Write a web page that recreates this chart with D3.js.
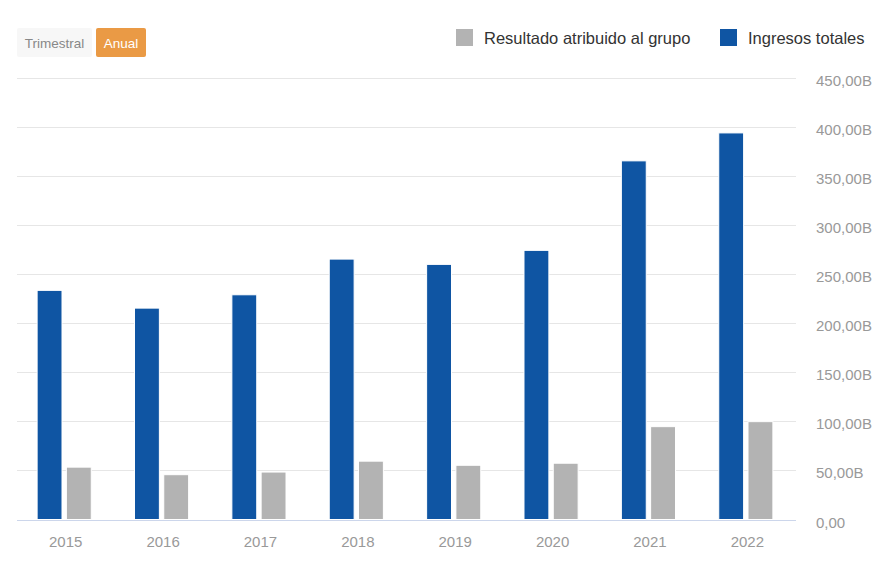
<!DOCTYPE html>
<html><head><meta charset="utf-8">
<script src="https://cdn.jsdelivr.net/npm/d3@7/dist/d3.min.js"></script>
<style>
html,body{margin:0;padding:0;background:#fff;}
svg{display:block;font-family:"Liberation Sans",Arial,Helvetica,sans-serif;}
</style></head>
<body>
<svg id="chart" width="887" height="583"></svg>
<script>
const years = ["2015","2016","2017","2018","2019","2020","2021","2022"];
const ingresos = [233.7, 215.6, 229.2, 265.6, 260.2, 274.5, 365.8, 394.3];
const resultado = [53.4, 45.7, 48.4, 59.5, 55.3, 57.4, 94.7, 99.8];
const yTicks = [0, 50, 100, 150, 200, 250, 300, 350, 400, 450];
const seriesNames = ["Ingresos totales", "Resultado atribuido al grupo"];
const legendOrder = ["Resultado atribuido al grupo", "Ingresos totales"];
const colors = {"Ingresos totales": "#0f55a3", "Resultado atribuido al grupo": "#b3b3b3"};

const svg = d3.select("#chart");
const plotL = 17, plotR = 796, plotT = 78.3, plotB = 519.5;

const x0 = d3.scaleBand().domain(years).range([plotL, plotR]).paddingInner(0).paddingOuter(0);
const groupPad = 0.222;
const x1 = d3.scaleBand().domain(seriesNames)
  .range([0, x0.bandwidth() * (1 - 2 * groupPad)]).paddingInner(0.15);
const y = d3.scaleLinear().domain([0, 450]).range([plotB, plotT]);

// grid
svg.append("g").selectAll("line").data(yTicks.filter(d => d > 0)).join("line")
  .attr("x1", plotL).attr("x2", plotR)
  .attr("y1", d => Math.round(y(d)) + 0.5).attr("y2", d => Math.round(y(d)) + 0.5)
  .attr("stroke", "#e6e6e6").attr("stroke-width", 1);

// y labels (right)
const yAxis = d3.axisRight(y).tickValues(yTicks).tickSize(0)
  .tickFormat(d => d === 0 ? "0,00" : d3.format(".2f")(d).replace(".", ",") + "B");
const ya = svg.append("g").attr("transform", `translate(${816},0)`).call(yAxis);
ya.select(".domain").remove();
ya.selectAll("text").attr("x", 0).attr("dy", "0.5em")
  .attr("font-size", 15).attr("fill", "#999999")
  .attr("font-family", "Liberation Sans, Arial, sans-serif").attr("text-anchor", "start");

// bars
const data = years.map((yr, i) => ({year: yr, vals: [
  {name: "Ingresos totales", v: ingresos[i]},
  {name: "Resultado atribuido al grupo", v: resultado[i]}]}));
const groupOffset = x0.bandwidth() * groupPad - 1.5;
const g = svg.append("g").selectAll("g").data(data).join("g")
  .attr("transform", d => `translate(${x0(d.year) + groupOffset},0)`);
g.selectAll("rect").data(d => d.vals).join("rect")
  .attr("x", d => x1(d.name)).attr("width", x1.bandwidth())
  .attr("y", d => y(d.v)).attr("height", d => y(0) - y(d.v))
  .attr("fill", d => colors[d.name]).attr("stroke", "#ffffff").attr("stroke-width", 1);

// x axis
const xAxis = d3.axisBottom(x0).tickSize(0);
const xa = svg.append("g").attr("transform", `translate(0,${Math.round(y(0)) + 0.5})`).call(xAxis);
xa.select(".domain").attr("stroke", "#ccd6eb").attr("d", `M${plotL},0H${plotR}`);
xa.selectAll("text").attr("y", 26).attr("dy", 0)
  .attr("font-size", 15).attr("fill", "#999999")
  .attr("font-family", "Liberation Sans, Arial, sans-serif");

// buttons
const btns = [{label: "Trimestral", x: 17, w: 75, bg: "#f7f7f7", fg: "#888888"},
              {label: "Anual", x: 96, w: 50, bg: "#ea9a45", fg: "#ffffff"}];
const bg = svg.append("g").selectAll("g").data(btns).join("g");
bg.append("rect").attr("x", d => d.x).attr("y", 28).attr("width", d => d.w).attr("height", 29)
  .attr("rx", 2).attr("fill", d => d.bg);
bg.append("text").attr("x", d => d.x + d.w / 2).attr("y", 48).attr("text-anchor", "middle")
  .attr("font-size", 13.5).attr("fill", d => d.fg).text(d => d.label);

// legend
const legX = {"Resultado atribuido al grupo": 456, "Ingresos totales": 720};
const lg = svg.append("g").selectAll("g").data(legendOrder).join("g")
  .attr("transform", d => `translate(${legX[d]},29)`);
lg.append("rect").attr("width", 17).attr("height", 17).attr("fill", d => colors[d]);
lg.append("text").attr("x", 28).attr("y", 15).attr("font-size", 16.5).attr("fill", "#333333").text(d => d);
</script>
</body></html>
